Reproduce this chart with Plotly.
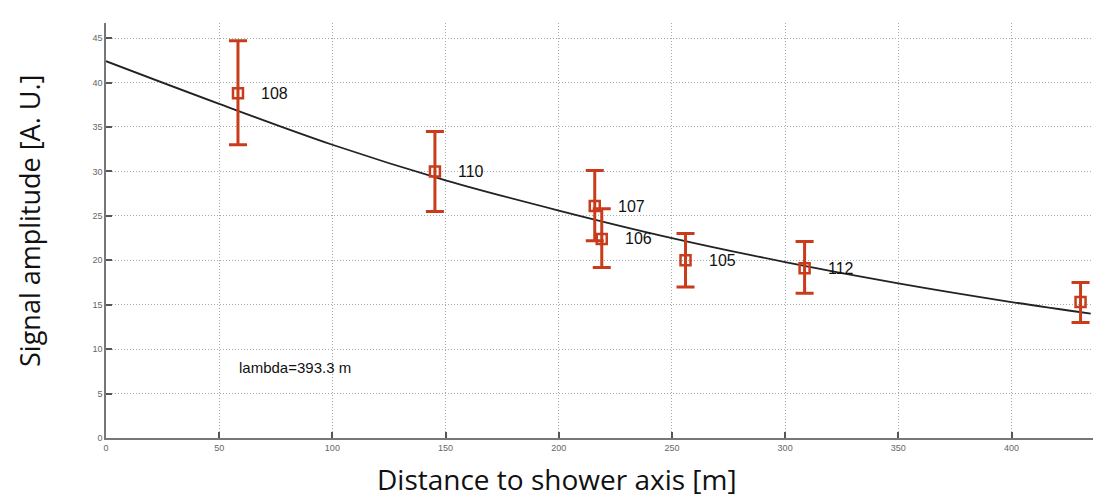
import plotly.graph_objects as go

# Measured points
dist = [58.3, 145.3, 215.9, 219.0, 256.0, 308.6, 430.5]
amp = [38.8, 30.0, 26.1, 22.4, 20.0, 19.1, 15.3]
err_hi = [44.7, 34.5, 30.1, 25.8, 23.0, 22.1, 17.5]
err_lo = [33.0, 25.5, 22.2, 19.2, 17.0, 16.3, 13.0]
labels = ["108", "110", "107", "106", "105", "112", ""]

# Fit curve
fit_x = [0, 50, 100, 150, 200, 250, 300, 350, 400, 435]
fit_y = [42.4, 37.6, 33.0, 29.0, 25.6, 22.5, 19.8, 17.4, 15.3, 14.0]

x_ticks = [0, 50, 100, 150, 200, 250, 300, 350, 400]
y_ticks = [0, 5, 10, 15, 20, 25, 30, 35, 40, 45]

red = "#c83c1c"

fig = go.Figure()
fig.add_trace(go.Scatter(x=fit_x, y=fit_y, mode="lines", line=dict(color="#222222", width=1.8, shape="spline"),
                         showlegend=False, hoverinfo="skip"))
fig.add_trace(go.Scatter(
    x=dist, y=amp, mode="markers",
    marker=dict(symbol="square-open", size=10, color=red, line=dict(width=2.5, color=red)),
    error_y=dict(type="data", symmetric=False,
                 array=[h - a for h, a in zip(err_hi, amp)],
                 arrayminus=[a - l for a, l in zip(amp, err_lo)],
                 color=red, thickness=3, width=9),
    showlegend=False))

for x, y, t in zip(dist, amp, labels):
    if t:
        fig.add_annotation(x=x, y=y, text=t, showarrow=False, xanchor="left", yanchor="middle",
                           xshift=21, font=dict(family="Liberation Sans, Arial", size=16, color="#111111"))

fig.add_annotation(x=58, y=7.9, text="lambda=393.3 m", showarrow=False, xanchor="left", yanchor="middle",
                   font=dict(family="Liberation Sans, Arial", size=15, color="#111111"))

# Axis titles
fig.add_annotation(xref="paper", yref="paper", x=0.457, y=-0.098, xanchor="center", yanchor="middle",
                   text="Distance to shower axis [m]", showarrow=False,
                   font=dict(family="Open Sans, DejaVu Sans", size=28, color="#111111"))
fig.add_annotation(xref="paper", yref="paper", x=-0.077, y=0.523, xanchor="center", yanchor="middle",
                   text="Signal amplitude [A. U.]", showarrow=False, textangle=-90,
                   font=dict(family="Open Sans, DejaVu Sans", size=27, color="#111111"))

axis_common = dict(showgrid=True, gridcolor="#a8a8a8", griddash="1px,2px", gridwidth=1,
                   showline=True, linecolor="#777777", linewidth=1.5,
                   ticks="inside", ticklen=6, tickcolor="#555555", tickwidth=1.5,
                   tickfont=dict(family="Liberation Sans, Arial", size=9, color="#666666"),
                   zeroline=False, mirror=False, automargin=False)

fig.update_layout(
    width=1103, height=504,
    paper_bgcolor="white", plot_bgcolor="white",
    margin=dict(l=98, r=18, t=15, b=74),
    xaxis=dict(range=[0, 436], tickvals=x_ticks, **axis_common),
    yaxis=dict(range=[0, 46.7], tickvals=y_ticks, **axis_common),
)

fig.write_html("out.html")
